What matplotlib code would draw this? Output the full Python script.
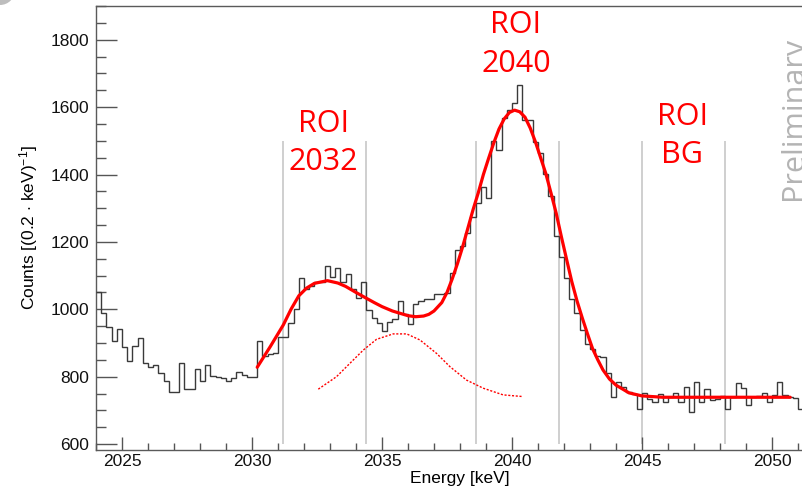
import numpy as np
import matplotlib
matplotlib.use('Agg')
import matplotlib.pyplot as plt
from matplotlib.ticker import MultipleLocator
from matplotlib.patches import Ellipse

# histogram: counts per 0.2 keV bin, first bin starts at 2024.0 keV
bin_start = 2024.0
bin_width = 0.2
counts = [1052, 990, 946, 907, 941, 887, 847, 892, 914, 840,
          830, 834, 810, 788, 756, 754, 842, 763, 763, 823,
          787, 835, 802, 800, 795, 788, 795, 815, 805, 800,
          800, 906, 862, 866, 869, 917, 917, 960, 1000, 1092,
          1059, 1070, 1080, 1082, 1128, 1097, 1124, 1080, 1105, 1060,
          1035, 1080, 998, 975, 960, 936, 962, 970, 1025, 985,
          955, 1015, 1025, 1030, 1032, 1045, 1045, 1047, 1107, 1176,
          1188, 1225, 1275, 1316, 1362, 1331, 1499, 1473, 1568, 1591,
          1611, 1665, 1562, 1562, 1497, 1463, 1401, 1336, 1217, 1155,
          1092, 1030, 990, 940, 897, 881, 862, 857, 811, 739,
          785, 770, 755, 750, 705, 752, 735, 725, 750, 725,
          741, 752, 726, 769, 695, 785, 725, 763, 730, 735,
          744, 703, 740, 782, 765, 715, 740, 742, 753, 724,
          745, 783, 746, 741, 738, 705]

# total fit curve
fit_energy = [2030.2, 2030.7, 2031.2, 2031.5, 2031.8, 2032.1, 2032.4, 2032.9,
              2033.3, 2033.6, 2034.0, 2034.3, 2034.7, 2035.0, 2035.4, 2035.7,
              2036.0, 2036.3, 2036.6, 2036.8, 2037.0, 2037.3, 2037.5, 2037.7,
              2037.9, 2038.1, 2038.3, 2038.5, 2038.7, 2038.9, 2039.1, 2039.3,
              2039.5, 2039.7, 2039.9, 2040.1, 2040.3, 2040.5, 2040.7, 2040.9,
              2041.1, 2041.3, 2041.5, 2041.7, 2041.9, 2042.1, 2042.3, 2042.5,
              2042.7, 2042.9, 2043.1, 2043.3, 2043.5, 2043.75, 2044.0, 2044.5,
              2045.0, 2045.8, 2047.0, 2048.5, 2050.7]
fit_counts = [828, 889, 953, 1000, 1040, 1063, 1077, 1085,
              1078, 1068, 1050, 1037, 1020, 1008, 995, 988,
              981, 978, 980, 985, 995, 1020, 1050, 1090,
              1135, 1185, 1240, 1295, 1345, 1400, 1448, 1494,
              1535, 1565, 1584, 1591, 1586, 1570, 1538, 1497,
              1450, 1403, 1345, 1285, 1215, 1148, 1082, 1025,
              975, 928, 883, 850, 820, 793, 775, 752,
              743, 739, 739, 739, 739]

# single peak component (dashed)
comp_energy = [2032.55, 2033.25, 2033.77, 2034.28, 2034.79, 2035.43, 2035.95,
               2036.46, 2037.1, 2037.61, 2038.25, 2038.89, 2039.66, 2040.43]
comp_counts = [763, 800, 840, 879, 911, 927, 927,
               909, 869, 830, 790, 766, 746, 741]

roi_names = ['2032', '2040', 'BG']
roi_lo = [2031.2, 2038.6, 2045.0]
roi_hi = [2034.4, 2041.8, 2048.2]

plt.rcParams['font.family'] = ['Liberation Sans', 'DejaVu Sans']
plt.rcParams['mathtext.fontset'] = 'custom'
plt.rcParams['mathtext.rm'] = 'Liberation Sans'
plt.rcParams['mathtext.it'] = 'Liberation Sans:italic'

fig = plt.figure(figsize=(8.02, 4.92), dpi=100)
# axes runs past the right edge of the picture, like the cropped original
ax = fig.add_axes([96 / 802, 42 / 492, 728 / 802, 444 / 492])

edges = bin_start + bin_width * np.arange(len(counts) + 1)
ax.stairs(counts, edges, baseline=None, color='#3a3a3a', lw=1.0, zorder=3)

ax.plot(fit_energy, fit_counts, color='#ff0000', lw=2.3, zorder=4,
        solid_capstyle='round', solid_joinstyle='round')
ax.plot(comp_energy, comp_counts, color='#ff0000', lw=1.0, ls=(0, (1.5, 1.2)),
        zorder=4)

# ROI boundaries
for lo, hi in zip(roi_lo, roi_hi):
    ax.vlines([lo, hi], 600, 1500, color='#cbcbcb', lw=1.3, zorder=1)

# ROI labels: (upper baseline, lower baseline)
label_y = [(1526, 1413), (1820, 1704), (1547, 1434)]
for name, lo, hi, (y1, y2) in zip(roi_names, roi_lo, roi_hi, label_y):
    xc = (lo + hi) / 2 - 0.05
    ax.text(xc, y1, 'ROI', ha='center', va='baseline', color='#ff0000',
            fontsize=22, family='Open Sans', zorder=5)
    ax.text(xc, y2, name, ha='center', va='baseline', color='#ff0000',
            fontsize=22, family='Open Sans', zorder=5)

ax.set_xlim(2024.0, 2052.0)
ax.set_ylim(582.5, 1900)

ax.xaxis.set_major_locator(MultipleLocator(5))
ax.xaxis.set_minor_locator(MultipleLocator(1))
ax.yaxis.set_major_locator(MultipleLocator(200))
ax.yaxis.set_minor_locator(MultipleLocator(50))

ax.tick_params(axis='both', which='both', direction='in', color='#555555',
               width=1.0, top=False, right=False, labelcolor='#111111')
ax.tick_params(axis='y', which='major', length=15, pad=5, labelsize=12.5)
ax.tick_params(axis='y', which='minor', length=7.5)
ax.tick_params(axis='x', which='major', length=9.5, pad=3, labelsize=12.5)
ax.tick_params(axis='x', which='minor', length=5)

for sp in ax.spines.values():
    sp.set_color('#5a5a5a')
    sp.set_linewidth(1.0)

ax.set_xlabel('Energy [keV]', fontsize=12.5)
ax.xaxis.set_label_coords(0.5, -0.047)
ax.set_ylabel(r'Counts [(0.2 $\cdot$ keV)$^{-1}$]', fontsize=12.5)
ax.yaxis.set_label_coords(-0.077, 0.5)

# watermark, partly cut by the right edge as in the original
fig.text(779 / 802, (492 - 200) / 492, 'Preliminary', rotation=90,
         ha='left', va='bottom', color='#b4b4b4', fontsize=22,
         family='Open Sans')

# bit of grey at the top-left corner of the original
fig.add_artist(Ellipse((0.0, (492 + 10) / 492), 30 / 802, 30 / 492,
                       transform=fig.transFigure, color='#bdbdbd', lw=0))

fig.savefig('out.png', dpi=100)
